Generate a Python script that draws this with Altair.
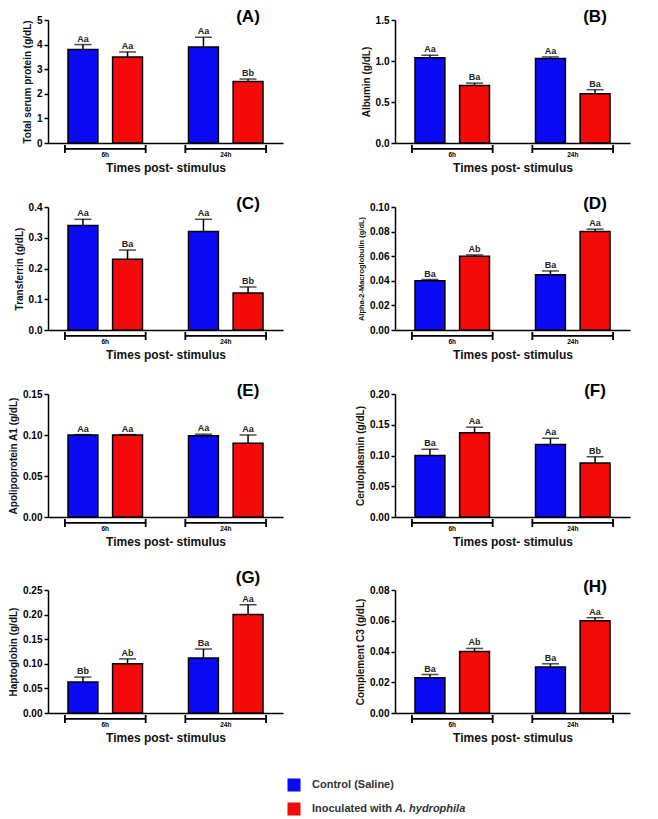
import altair as alt
import pandas as pd

times = ["6h", "24h"]
groups = ["Control (Saline)", "Inoculated with A. hydrophila"]
colors = ["#0A0AF5", "#F50A0A"]

letters = ["(A)", "(B)", "(C)", "(D)", "(E)", "(F)", "(G)", "(H)"]
letter_y = [-3, -3, -3, -3, -3, -3, -12, -3]
y_titles = [
    "Total serum protein (g/dL)", "Albumin (g/dL)", "Transferrin (g/dL)",
    "Alpha-2-Macroglobulin (g/dL)", "Apolipoprotein A1 (g/dL)",
    "Ceruloplasmin (g/dL)", "Haptoglobin (g/dL)", "Complement C3 (g/dL)",
]
y_ticks = [
    [0, 1, 2, 3, 4, 5],
    [0.0, 0.5, 1.0, 1.5],
    [0.0, 0.1, 0.2, 0.3, 0.4],
    [0.00, 0.02, 0.04, 0.06, 0.08, 0.10],
    [0.00, 0.05, 0.10, 0.15],
    [0.00, 0.05, 0.10, 0.15, 0.20],
    [0.00, 0.05, 0.10, 0.15, 0.20, 0.25],
    [0.00, 0.02, 0.04, 0.06, 0.08],
]
y_formats = ["d", ".1f", ".1f", ".2f", ".2f", ".2f", ".2f", ".2f"]
y_title_sizes = [10, 10, 10, 7.5, 10, 10, 10, 10]

# order within each panel: 6h control, 6h inoculated, 24h control, 24h inoculated
means_A = [3.80, 3.50, 3.90, 2.50]
errs_A = [0.20, 0.20, 0.40, 0.10]
labels_A = ["Aa", "Aa", "Aa", "Bb"]

means_B = [1.04, 0.70, 1.03, 0.60]
errs_B = [0.03, 0.03, 0.02, 0.05]
labels_B = ["Aa", "Ba", "Aa", "Ba"]

means_C = [0.34, 0.23, 0.32, 0.12]
errs_C = [0.02, 0.03, 0.04, 0.02]
labels_C = ["Aa", "Ba", "Aa", "Bb"]

means_D = [0.040, 0.060, 0.045, 0.080]
errs_D = [0.001, 0.001, 0.003, 0.002]
labels_D = ["Ba", "Ab", "Ba", "Aa"]

means_E = [0.100, 0.100, 0.099, 0.090]
errs_E = [0.0005, 0.0005, 0.002, 0.010]
labels_E = ["Aa", "Aa", "Aa", "Aa"]

means_F = [0.100, 0.137, 0.118, 0.088]
errs_F = [0.010, 0.009, 0.010, 0.010]
labels_F = ["Ba", "Aa", "Aa", "Bb"]

means_G = [0.063, 0.100, 0.112, 0.200]
errs_G = [0.010, 0.010, 0.018, 0.020]
labels_G = ["Bb", "Ab", "Ba", "Aa"]

means_H = [0.023, 0.040, 0.030, 0.060]
errs_H = [0.002, 0.002, 0.002, 0.002]
labels_H = ["Ba", "Ab", "Ba", "Aa"]

all_means = [means_A, means_B, means_C, means_D, means_E, means_F, means_G, means_H]
all_errs = [errs_A, errs_B, errs_C, errs_D, errs_E, errs_F, errs_G, errs_H]
all_labels = [labels_A, labels_B, labels_C, labels_D, labels_E, labels_F, labels_G, labels_H]

W, H = 235, 123

color_enc = alt.Color("group:N", scale=alt.Scale(domain=groups, range=colors), legend=None)


def panel(i):
    df = pd.DataFrame({
        "time": [t for t in times for _ in groups],
        "group": groups * 2,
        "mean": all_means[i],
        "err": all_errs[i],
        "label": all_labels[i],
    })
    df["upper"] = df["mean"] + df["err"]
    yscale = alt.Scale(domain=[0, y_ticks[i][-1]], nice=False)
    x_axis = alt.Axis(
        title="Times post- stimulus", labelAngle=0, ticks=False,
        labelFontSize=6.5, labelFontWeight="bold", labelColor="black",
        labelPadding=8, titleFontSize=12, titleFontWeight="bold",
        titleColor="#111", titlePadding=5, domainColor="black", domainWidth=1.5,
    )
    xscale = alt.Scale(paddingInner=0.33, paddingOuter=0.14)
    x = alt.X("time:N", sort=times, scale=xscale, axis=x_axis)
    xo = alt.XOffset("group:N", sort=groups,
                     scale=alt.Scale(paddingInner=0.33, paddingOuter=0.07))
    y_axis = alt.Axis(
        values=y_ticks[i], format=y_formats[i], title=y_titles[i], grid=False,
        tickSize=4, tickColor="black", tickWidth=1.5, domainColor="black",
        domainWidth=1.5, labelFontSize=10, labelFontWeight="bold",
        labelColor="black", labelPadding=2, labelOverlap=False, labelFlush=False,
        titleFontSize=y_title_sizes[i],
        titleFontWeight="bold", titleColor="#111", titlePadding=4,
    )
    base = alt.Chart(df)
    bars = base.mark_bar(stroke="black", strokeWidth=1.5).encode(
        x=x, xOffset=xo,
        y=alt.Y("mean:Q", scale=yscale, axis=y_axis),
        color=color_enc,
    )
    err = base.mark_rule(color="black", strokeWidth=1.5).encode(
        x=x, xOffset=xo,
        y=alt.Y("upper:Q", scale=yscale, axis=y_axis), y2="mean:Q",
    )
    cap = base.mark_tick(color="black", thickness=1.5, size=17).encode(
        x=x, xOffset=xo,
        y=alt.Y("upper:Q", scale=yscale, axis=y_axis),
    )
    txt = base.mark_text(baseline="bottom", dy=-1, fontSize=9,
                         fontWeight="bold", color="#222").encode(
        x=x, xOffset=xo,
        y=alt.Y("upper:Q", scale=yscale, axis=y_axis), text="label:N",
    )
    bracket = base.mark_bar(color="black").encode(
        x=x,
        y=alt.value(H + 5), y2=alt.value(H + 6.5),
    )
    end_l = base.mark_rule(color="black", strokeWidth=1.5).encode(
        x=alt.X("time:N", sort=times, scale=xscale, axis=x_axis, bandPosition=0),
        y=alt.value(H + 2), y2=alt.value(H + 10),
    )
    end_r = base.mark_rule(color="black", strokeWidth=1.5).encode(
        x=alt.X("time:N", sort=times, scale=xscale, axis=x_axis, bandPosition=1),
        y=alt.value(H + 2), y2=alt.value(H + 10),
    )
    letter = alt.Chart(pd.DataFrame({"letter": [letters[i]]})).mark_text(
        fontSize=17, fontWeight="bold", color="black", baseline="middle"
    ).encode(x=alt.value(200), y=alt.value(letter_y[i]), text="letter:N")
    return alt.layer(bars, err, cap, txt, bracket, end_l, end_r, letter).properties(
        width=W, height=H
    )


grid = alt.concat(*[panel(i) for i in range(8)], columns=2,
                  spacing={"row": 21, "column": 72})

leg_df = pd.DataFrame({"group": groups, "text": ["Control (Saline)", "Inoculated with"]})
leg_y = alt.Y("group:N", sort=groups, axis=None)
leg_sq = alt.Chart(leg_df).mark_square(size=170, opacity=1).encode(
    x=alt.value(246), y=leg_y, color=color_enc
)
leg_txt = alt.Chart(leg_df).mark_text(
    align="left", fontSize=11, fontWeight="bold", color="#333"
).encode(x=alt.value(264), y=leg_y, text="text:N")
leg_it = alt.Chart(pd.DataFrame({"group": [groups[1]], "text": ["A. hydrophila"]})).mark_text(
    align="left", fontSize=11, fontWeight="bold", fontStyle="italic", color="#333"
).encode(x=alt.value(347), y=leg_y, text="text:N")
legend = alt.layer(leg_sq, leg_txt, leg_it).properties(width=560, height=48)

chart = alt.vconcat(grid, legend, spacing=29).properties(
    padding={"left": 0, "top": 0, "right": 2, "bottom": 2}
).configure(font="Liberation Sans").configure_view(stroke=None)

chart.save("out.html", embed_options={"renderer": "svg", "actions": False})
